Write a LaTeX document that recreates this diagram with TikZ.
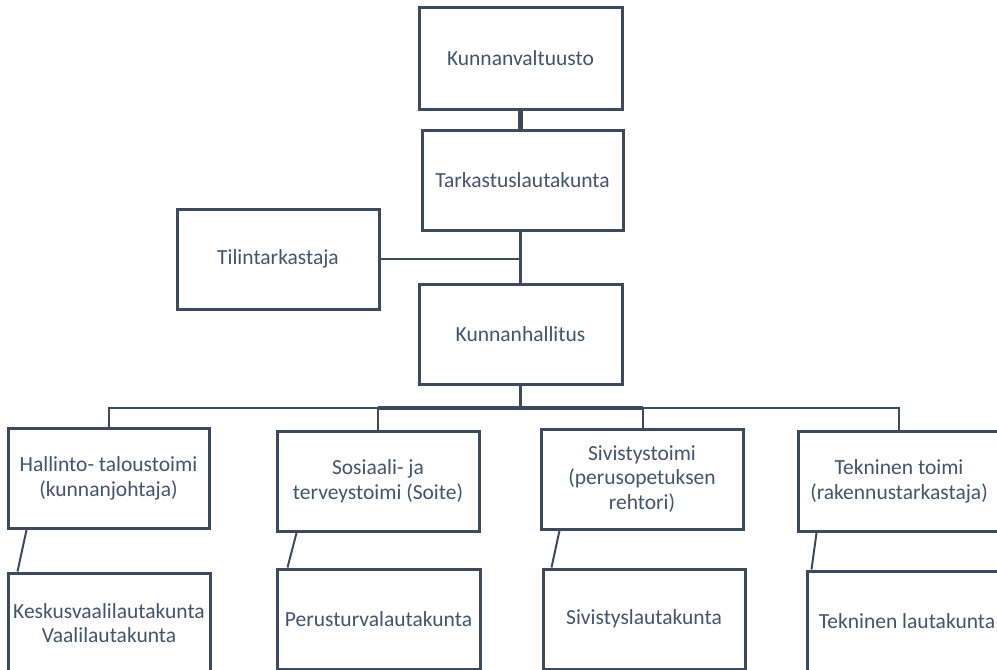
\documentclass[tikz,border=0pt]{standalone}
\usepackage{fontspec}
\setmainfont{Carlito}
\definecolor{linec}{HTML}{3E4A5B}
\definecolor{textc}{HTML}{44546A}
\begin{document}
\begin{tikzpicture}[x=1pt,y=-1pt,
  orgbox/.style={draw=linec,line width=3pt,fill=white,inner sep=0pt,
    minimum width=202pt,minimum height=100pt,align=center,text=textc,
    font=\fontsize{21.5}{24.5}\selectfont},
  conn/.style={draw=linec,line width=2pt},
  connthick/.style={draw=linec,line width=4.5pt}]
\useasboundingbox (0,0) rectangle (997,670);
\clip (0,0) rectangle (997,670);
% nodes
\node[orgbox,minimum width=203pt,minimum height=102pt] (kv) at (520.5,58) {Kunnanvaltuusto};
\node[orgbox,minimum width=201pt] (tark) at (522.5,180) {Tarkastuslautakunta};
\node[orgbox] (til) at (278,259) {Tilintarkastaja};
\node[orgbox,minimum width=203pt] (kh) at (520.5,334) {Kunnanhallitus};
\node[orgbox,minimum width=201pt] (hal) at (108.5,478.5) {Hallinto- taloustoimi\\(kunnanjohtaja)};
\node[orgbox] (soc) at (378,481.5) {Sosiaali- ja\\terveystoimi (Soite)};
\node[orgbox] (siv) at (642,479) {Sivistystoimi\\(perusopetuksen\\rehtori)};
\node[orgbox] (tek) at (899,481.5) {Tekninen toimi\\(rakennustarkastaja)};
\node[orgbox] (kes) at (109,623) {Keskusvaalilautakunta\\Vaalilautakunta};
\node[orgbox,minimum width=203pt] (per) at (378.5,619) {Perusturvalautakunta};
\node[orgbox] (sivl) at (644,619) {Sivistyslautakunta};
\node[orgbox,minimum width=200pt] (tekl) at (907,621) {Tekninen lautakunta};
% connectors
\coordinate (bus) at (520.5,408);
\draw[connthick] (kv.south) -- (kv.south |- tark.north);
\draw[draw=linec,line width=3pt] (kh.north) -- (kh.north |- tark.south);
\draw[draw=linec,line width=2.5pt] (til.east) -- (til.east -| kh.north);
\draw[draw=linec,line width=3pt] (kh.south) -- (bus);
\draw[draw=linec,line width=4pt] (soc.north |- bus) -- ([xshift=1pt]siv.north |- bus);
\draw[conn] (bus) -| (hal.north);
\draw[conn] (bus) -| (soc.north);
\draw[conn] (bus) -| ([xshift=1pt]siv.north);
\draw[conn] (bus) -| (tek.north);
\draw[conn] ([xshift=20pt]hal.south west) -- ([xshift=11pt]kes.north west);
\draw[conn] ([xshift=21pt]soc.south west) -- ([xshift=12pt]per.north west);
\draw[conn] ([xshift=20pt]siv.south west) -- ([xshift=10pt]sivl.north west);
\draw[conn] ([xshift=20pt]tek.south west) -- ([xshift=6pt]tekl.north west);
\end{tikzpicture}
\end{document}
